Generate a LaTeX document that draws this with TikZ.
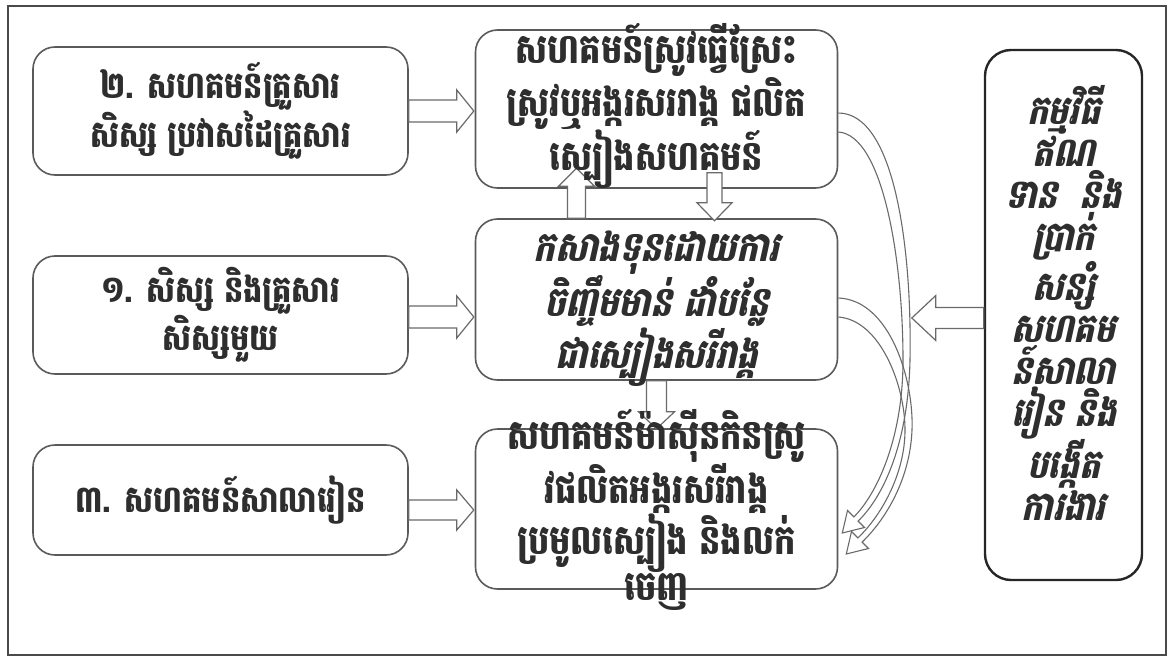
\documentclass[tikz,border=0pt]{standalone}
\usepackage{fontspec}
\newfontfamily\khmer[Script=Khmer,FakeStretch=0.82]{Battambang}
\newfontfamily\khmersl[Script=Khmer,FakeSlant=0.22,FakeStretch=0.82]{Battambang}
\usetikzlibrary{calc}
\definecolor{boxgray}{HTML}{5A5A5A}
\definecolor{arrowgray}{HTML}{6A6A6A}
\definecolor{framegray}{HTML}{4A4A4A}
\definecolor{txtgray}{HTML}{2E2E2E}
\tikzset{
  box/.style={draw=boxgray, line width=1.6pt, rounded corners=22pt, fill=white,
    align=center, text=txtgray, inner sep=0pt,
    font=\khmer\bfseries\fontsize{37}{42}\selectfont},
  rbox/.style={box, draw=black!85, line width=2.4pt, rounded corners=26pt},
  ctext/.style={align=center, text=txtgray, inner sep=0pt,
    font=\khmer\bfseries\fontsize{41}{40}\selectfont},
  sltext/.style={ctext, font=\khmersl\bfseries\fontsize{41}{40}\selectfont},
  rtext/.style={align=center, text=txtgray, inner sep=0pt,
    font=\khmersl\bfseries\fontsize{40}{42}\selectfont},
  harrow/.style={draw=arrowgray, line width=1.2pt, fill=white, line join=miter},
  carrow/.style={draw=arrowgray, line width=1.1pt},
  pics/blk/.style n args={4}{code={
    \draw[harrow] (0,-#2) -- ({#1-#4},-#2) -- ({#1-#4},-#3) -- (#1,0)
      -- ({#1-#4},#3) -- ({#1-#4},#2) -- (0,#2) -- cycle;}}
}
\begin{document}
\begin{tikzpicture}[x=1pt,y=-1pt]
\useasboundingbox (0,0) rectangle (1172,658);
\draw[framegray, line width=1.5pt] (8,6) rectangle (1166,655);

% left boxes
\node[box, minimum width=375pt, minimum height=128pt] (b2) at (220.5,111)
  {២. សហគមន៍គ្រួសារ\\សិស្ស ប្រវាសដៃគ្រួសារ};
\node[box, minimum width=375pt, minimum height=118pt] (b1) at (220.5,315)
  {១. សិស្ស និងគ្រួសារ\\សិស្សមួយ};
\node[box, minimum width=375pt, minimum height=110pt] (b3) at (220.5,500)
  {៣. សហគមន៍សាលារៀន};

% centre boxes
\node[box, minimum width=362pt, minimum height=158pt] (ct) at (656.5,109) {};
\node[box, minimum width=362pt, minimum height=161pt] (cm) at (656.5,299.5) {};
\node[box, minimum width=362pt, minimum height=160pt] (cb) at (656.5,509) {};

% right box
\node[rbox, minimum width=157pt, minimum height=530pt] (r) at (1063.5,315) {};

% straight block arrows
\pic at (b2.east) {blk={65}{11}{21}{17}};
\pic at ([yshift=-2pt]b1.east) {blk={65}{11}{21}{17}};
\pic at ([yshift=-10pt]b3.east) {blk={65}{10}{20}{17}};
\pic[rotate=90] at ([xshift=-80pt]cm.north) {blk={50}{9}{18}{18}};
\pic[rotate=-90] at ([xshift=58pt,yshift=16pt]ct.south) {blk={48}{7.5}{17.5}{18}};
\pic[rotate=-90] at (cm.south) {blk={48}{10}{18}{17}};
\pic[rotate=180] at ([yshift=-3pt]r.west) {blk={72}{10.5}{22.5}{24}};

% curved arrows
\coordinate (As1) at ([yshift=-4pt]ct.east);
\coordinate (As2) at ([yshift=-23pt]ct.east);
\coordinate (Bs1) at ([yshift=1.5pt]cm.east);
\coordinate (Bs2) at ([yshift=-17.5pt]cm.east);
\coordinate (At) at ([xshift=4pt,yshift=-24pt]cb.east);
\coordinate (Bt) at ([xshift=8pt,yshift=-45pt]cb.east);

\draw[carrow] (As1) .. controls (895,113) and (912,250) .. (910,360)
  .. controls (908,450) and (880,500) .. (858.1,521.1)
  -- (864.5,527.5) -- (At) -- (847.5,510.5) -- (853.9,516.9)
  .. controls (876,495) and (903,440) .. (903,360)
  .. controls (903,260) and (883,135) .. (As2);
\draw[carrow] (Bs1) .. controls (890,300) and (914,380) .. (912,430)
  .. controls (910,480) and (885,520) .. (862.1,542.1)
  -- (868.5,548.5) -- (Bt) -- (851.5,531.5) -- (857.9,537.9)
  .. controls (880,517) and (905,475) .. (905,430)
  .. controls (905,385) and (880,320) .. (Bs2);

% texts of the centre and right boxes (drawn over the arrows)
\node[ctext] (ctt) at ([yshift=3pt]ct.center)
  {សហគមន៍ស្រូវធ្វើស្រែះ\\ស្រូវឬអង្ករសររាង្គ ផលិត\\ស្បៀងសហគមន៍};
\node[sltext] (cmt) at ([yshift=-9pt]cm.center)
  {កសាងទុនដោយការ\\ចិញ្ចឹមមាន់ ដាំបន្លែ\\ជាស្បៀងសរីរាង្គ};
\node[ctext, font=\khmer\bfseries\fontsize{41}{38.5}\selectfont] (cbt)
  at ([yshift=-1pt]cb.center)
  {សហគមន៍ម៉ាស៊ីនកិនស្រូ\\វផលិតអង្ករសរីរាង្គ\\ប្រមូលស្បៀង និងលក់\\ចេញ};
\node[rtext] (rt) at ([yshift=12pt]r.center)
  {កម្មវិធី\\ឥណ\\ទាន\ \ និង\\ប្រាក់\\សន្សំ\\សហគម\\ន៍សាលា\\រៀន និង\\បង្កើត\\ការងារ};
\end{tikzpicture}
\end{document}
